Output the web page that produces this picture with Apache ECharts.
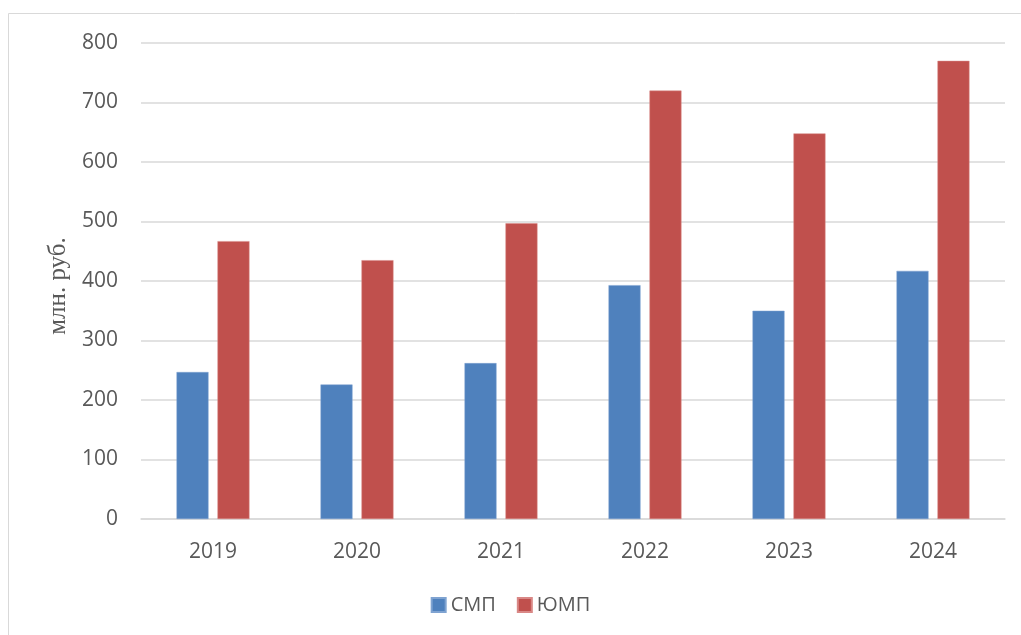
<!DOCTYPE html>
<html>
<head>
<meta charset="utf-8">
<script src="https://cdn.jsdelivr.net/npm/echarts@6/dist/echarts.min.js"></script>
<style>
  html, body { margin: 0; padding: 0; background: #fff; }
  #main { width: 1021px; height: 635px; }
</style>
</head>
<body>
<div id="main"></div>
<script>
const years = ['2019', '2020', '2021', '2022', '2023', '2024'];
const smp = [247, 226, 262, 393, 350, 417];
const ymp = [467, 435, 497, 720, 648, 770];

const chart = echarts.init(document.getElementById('main'));
const textColor = '#595959';
const font = 'Open Sans, Liberation Sans, sans-serif';

const option = {
  backgroundColor: '#fff',
  animation: false,
  graphic: [{
    type: 'rect',
    shape: { x: 8.5, y: 13.5, width: 1030, height: 640 },
    style: { fill: 'none', stroke: '#d9d9d9', lineWidth: 1 },
    silent: true
  }],
  grid: { left: 141, right: 16, top: 43, bottom: 116 },
  legend: {
    top: 590,
    left: 'center',
    itemWidth: 14,
    itemHeight: 14,
    itemGap: 21,
    icon: 'rect',
    textStyle: { color: textColor, fontSize: 20, fontFamily: font },
    data: ['СМП', 'ЮМП']
  },
  xAxis: {
    type: 'category',
    data: years,
    axisLine: { lineStyle: { color: '#d9d9d9', width: 1.5 } },
    axisTick: { show: false },
    axisLabel: { color: textColor, fontSize: 21, fontFamily: font, margin: 23 }
  },
  yAxis: {
    type: 'value',
    min: 0,
    max: 800,
    interval: 100,
    name: 'млн. руб.',
    nameLocation: 'middle',
    nameGap: 66,
    nameRotate: 90,
    nameTextStyle: { color: textColor, fontSize: 25, fontFamily: 'Liberation Serif, serif', padding: [0, 10, 0, 0] },
    axisLine: { show: false },
    axisTick: { show: false },
    axisLabel: { color: textColor, fontSize: 21, fontFamily: font, margin: 23 },
    splitLine: { lineStyle: { color: '#d9d9d9', width: 1.5 } }
  },
  series: [
    {
      name: 'СМП',
      type: 'bar',
      data: smp,
      barWidth: 32,
      barGap: '28%',
      itemStyle: { color: '#4f81bd', borderColor: '#7fa3d1', borderWidth: 0.5 }
    },
    {
      name: 'ЮМП',
      type: 'bar',
      data: ymp,
      barWidth: 32,
      itemStyle: { color: '#c0504d', borderColor: '#d98886', borderWidth: 0.5 }
    }
  ]
};

chart.setOption(option);
</script>
</body>
</html>
